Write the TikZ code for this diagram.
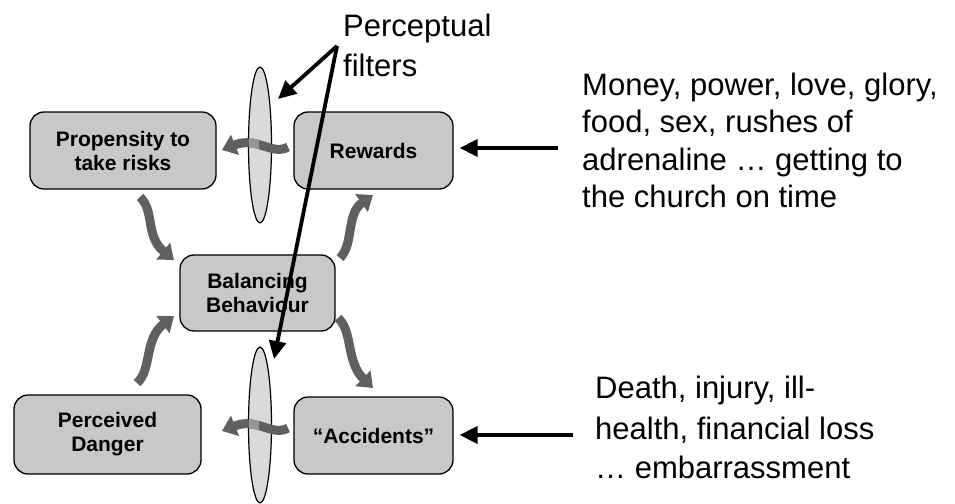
\documentclass[tikz,border=0pt]{standalone}
\usepackage{fontspec}
\setmainfont{Liberation Sans}
\usetikzlibrary{arrows.meta,shapes.geometric}
\definecolor{boxgray}{RGB}{200,200,200}
\definecolor{lensgray}{RGB}{218,218,218}
\definecolor{flowgray}{RGB}{96,96,96}
\definecolor{flowlight}{RGB}{150,150,150}

\begin{document}
\begin{tikzpicture}[x=1pt,y=-1pt,
  stage/.style={draw=black, line width=1.3pt, fill=boxgray, rounded corners=14pt,
    inner sep=0pt, align=center, font=\bfseries\fontsize{21}{24}\selectfont},
  lens/.style={ellipse, draw=black, line width=1.2pt, fill=lensgray,
    minimum width=23pt, minimum height=156pt, inner sep=0pt},
  flow/.style={draw=flowgray, line width=9pt, -{Triangle[length=14pt,width=21pt]}},
  pointer/.style={draw=black, line width=3.8pt, -{Triangle[length=18pt,width=17pt]}},
  note/.style={anchor=base west, inner sep=0pt, font=\fontsize{31}{37}\selectfont}
]
\useasboundingbox (0,0) rectangle (955,503);

% the five stages of the risk thermostat
\node[stage, minimum width=186pt, minimum height=77pt] (prop) at (123,150.5) {Propensity to\\take risks};
\node[stage, minimum width=159pt, minimum height=77pt] (rew)  at (373.5,150.5) {Rewards};
\node[stage, minimum width=155pt, minimum height=76pt] (bal)  at (257.5,293) {Balancing\\Behaviour};
\node[stage, minimum width=187pt, minimum height=79pt] (dan)  at (107.5,434.5) {Perceived\\Danger};
\node[stage, minimum width=159pt, minimum height=77pt] (acc)  at (373.5,435.5) {“Accidents”};

% perceptual filters
\node[lens] (ftop) at (260,145) {};
\node[lens] (fbot) at (260,425) {};

% ends of the wavy flow arrows
\coordinate (rwT) at (288,147);  \coordinate (prH) at (222,150);
\coordinate (acT) at (288,428);  \coordinate (daH) at (222,431);
\coordinate (prT) at (140,197);  \coordinate (baH1) at (174,260);
\coordinate (baT1) at (340,258); \coordinate (rwH) at (373,195);
\coordinate (baT2) at (338,318); \coordinate (acH) at (373,388);
\coordinate (daT) at (137,383);  \coordinate (baH2) at (174,316);

% flows through the filters, lighter where they pass the lens
\draw[flow] (rwT) .. controls (272,156) and (257,136) .. (prH);
\draw[flow] (acT) .. controls (272,437) and (257,417) .. (daH);
\begin{scope}
  \clip (249,100) rectangle (259,480);
  \draw[flow, draw=flowlight] (rwT) .. controls (272,156) and (257,136) .. (prH);
  \draw[flow, draw=flowlight] (acT) .. controls (272,437) and (257,417) .. (daH);
\end{scope}

% flows around the balancing behaviour
\draw[flow] (prT) .. controls (155,211) and (145,236) .. (baH1);
\draw[flow] (baT1) .. controls (354,244) and (346,214) .. (rwH);
\draw[flow] (baT2) .. controls (353,331) and (346,362) .. (acH);
\draw[flow] (daT) .. controls (152,370) and (144,339) .. (baH2);

% label for the filters
\node[note] (pf1) at (343,37) {Perceptual};
\node[note] (pf2) at (343,76) {filters};
\coordinate (pj) at (337,46);
\coordinate (f1) at (278,99);
\coordinate (f2) at (274,359);
\draw[pointer] (pj) -- (f1);
\draw[pointer] (pj) -- (f2);

% rewards
\node[note] (rw1) at (582,95)  {Money, power, love, glory,};
\node[note] (rw2) at (582,132) {food, sex, rushes of};
\node[note] (rw3) at (582,170) {adrenaline … getting to};
\node[note] (rw4) at (582,207) {the church on time};
\coordinate (rwIn) at (558,148);
\draw[pointer, shorten >=6pt] (rwIn) -- (rwIn -| rew.east);

% accidents
\node[note] (ac1) at (595,398) {Death, injury, ill-};
\node[note] (ac2) at (595,439) {health, financial loss};
\node[note] (ac3) at (595,478) {… embarrassment};
\coordinate (acIn) at (573,435);
\draw[pointer, shorten >=6pt] (acIn) -- (acIn -| acc.east);
\end{tikzpicture}
\end{document}
